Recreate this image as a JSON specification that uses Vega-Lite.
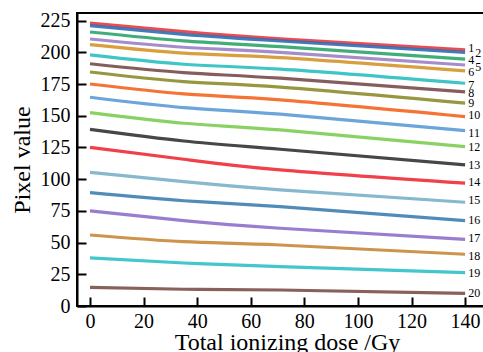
{
  "$schema": "https://vega.github.io/schema/vega-lite/v6.json",
  "autosize": "none",
  "padding": {"left": 77, "top": 13, "right": 0, "bottom": 46},
  "width": 420,
  "height": 293,
  "background": "white",
  "config": {
    "view": {"stroke": "black", "strokeWidth": 2},
    "font": "Liberation Serif",
    "axis": {
      "grid": false,
      "labelFont": "Liberation Serif",
      "labelFontSize": 20,
      "labelColor": "black",
      "titleFont": "Liberation Serif",
      "titleFontSize": 24,
      "titleFontWeight": "normal",
      "titleColor": "black",
      "domainColor": "black",
      "domainWidth": 2,
      "tickColor": "black",
      "tickWidth": 2,
      "tickSize": 9
    }
  },
  "datasets": {
    "curves": [
      {"series": "1", "dose": 0, "value": 223}, {"series": "1", "dose": 35, "value": 216.3}, {"series": "1", "dose": 71, "value": 210.6}, {"series": "1", "dose": 140, "value": 201.9},
      {"series": "2", "dose": 0, "value": 221}, {"series": "2", "dose": 35, "value": 214.2}, {"series": "2", "dose": 71, "value": 209}, {"series": "2", "dose": 140, "value": 200},
      {"series": "4", "dose": 0, "value": 216}, {"series": "4", "dose": 35, "value": 209}, {"series": "4", "dose": 71, "value": 204.5}, {"series": "4", "dose": 140, "value": 194.6},
      {"series": "5", "dose": 0, "value": 210.5}, {"series": "5", "dose": 35, "value": 204}, {"series": "5", "dose": 71, "value": 200}, {"series": "5", "dose": 140, "value": 190},
      {"series": "6", "dose": 0, "value": 206}, {"series": "6", "dose": 35, "value": 199.3}, {"series": "6", "dose": 71, "value": 195.8}, {"series": "6", "dose": 140, "value": 185.3},
      {"series": "7", "dose": 0, "value": 198}, {"series": "7", "dose": 35, "value": 190.6}, {"series": "7", "dose": 71, "value": 186.7}, {"series": "7", "dose": 140, "value": 175.6},
      {"series": "8", "dose": 0, "value": 191}, {"series": "8", "dose": 35, "value": 184}, {"series": "8", "dose": 71, "value": 179.6}, {"series": "8", "dose": 140, "value": 168.8},
      {"series": "9", "dose": 0, "value": 184.5}, {"series": "9", "dose": 35, "value": 176.9}, {"series": "9", "dose": 71, "value": 172.5}, {"series": "9", "dose": 140, "value": 159.9},
      {"series": "10", "dose": 0, "value": 175}, {"series": "10", "dose": 35, "value": 167.2}, {"series": "10", "dose": 71, "value": 162.5}, {"series": "10", "dose": 140, "value": 149.3},
      {"series": "11", "dose": 0, "value": 164.6}, {"series": "11", "dose": 35, "value": 156.4}, {"series": "11", "dose": 71, "value": 151.2}, {"series": "11", "dose": 140, "value": 138.3},
      {"series": "12", "dose": 0, "value": 152.5}, {"series": "12", "dose": 35, "value": 144.1}, {"series": "12", "dose": 71, "value": 138.8}, {"series": "12", "dose": 140, "value": 125.6},
      {"series": "13", "dose": 0, "value": 139.3}, {"series": "13", "dose": 35, "value": 130.1}, {"series": "13", "dose": 71, "value": 123.6}, {"series": "13", "dose": 140, "value": 111.2},
      {"series": "14", "dose": 0, "value": 125}, {"series": "14", "dose": 35, "value": 115.7}, {"series": "14", "dose": 71, "value": 107.3}, {"series": "14", "dose": 140, "value": 96.8},
      {"series": "15", "dose": 0, "value": 105.4}, {"series": "15", "dose": 35, "value": 98}, {"series": "15", "dose": 71, "value": 91.5}, {"series": "15", "dose": 140, "value": 81.8},
      {"series": "16", "dose": 0, "value": 89.4}, {"series": "16", "dose": 35, "value": 83}, {"series": "16", "dose": 71, "value": 78.3}, {"series": "16", "dose": 140, "value": 67.3},
      {"series": "17", "dose": 0, "value": 75}, {"series": "17", "dose": 35, "value": 67.3}, {"series": "17", "dose": 71, "value": 61.3}, {"series": "17", "dose": 140, "value": 52.6},
      {"series": "18", "dose": 0, "value": 56}, {"series": "18", "dose": 35, "value": 50.7}, {"series": "18", "dose": 71, "value": 48.1}, {"series": "18", "dose": 140, "value": 40.8},
      {"series": "19", "dose": 0, "value": 38}, {"series": "19", "dose": 35, "value": 33.9}, {"series": "19", "dose": 71, "value": 31}, {"series": "19", "dose": 140, "value": 26.3},
      {"series": "20", "dose": 0, "value": 14.7}, {"series": "20", "dose": 35, "value": 13.2}, {"series": "20", "dose": 71, "value": 12.6}, {"series": "20", "dose": 140, "value": 10}
    ],
    "tags": [
      {"label": "1", "dose": 141.2, "value": 203.5},
      {"label": "2", "dose": 143.8, "value": 199.5},
      {"label": "4", "dose": 141.2, "value": 194},
      {"label": "5", "dose": 143.8, "value": 188.5},
      {"label": "6", "dose": 141.2, "value": 184.5},
      {"label": "7", "dose": 141.2, "value": 174.3},
      {"label": "8", "dose": 141.2, "value": 168},
      {"label": "9", "dose": 141.2, "value": 160},
      {"label": "10", "dose": 141.2, "value": 150.6},
      {"label": "11", "dose": 141.2, "value": 136.4},
      {"label": "12", "dose": 141.2, "value": 125.4},
      {"label": "13", "dose": 141.2, "value": 111.2},
      {"label": "14", "dose": 141.2, "value": 97.8},
      {"label": "15", "dose": 141.2, "value": 83.6},
      {"label": "16", "dose": 141.2, "value": 67.8},
      {"label": "17", "dose": 141.2, "value": 53.6},
      {"label": "18", "dose": 141.2, "value": 39.4},
      {"label": "19", "dose": 141.2, "value": 26},
      {"label": "20", "dose": 141.2, "value": 10.3}
    ]
  },
  "resolve": {"axis": {"x": "independent", "y": "independent"}},
  "layer": [
    {
      "data": {"name": "curves"},
      "mark": {"type": "line", "interpolate": "natural", "strokeWidth": 3.2, "opacity": 0.9},
      "encoding": {
        "x": {
          "field": "dose",
          "type": "quantitative",
          "scale": {"domain": [-4.85, 151.9], "nice": false, "zero": false},
          "axis": {"orient": "bottom", "values": [0, 20, 40, 60, 80, 100, 120, 140], "ticks": false, "title": "Total ionizing dose /Gy", "labelPadding": 5, "titlePadding": -1}
        },
        "y": {
          "field": "value",
          "type": "quantitative",
          "scale": {"domain": [0, 231], "nice": false},
          "axis": {"orient": "left", "values": [0, 25, 50, 75, 100, 125, 150, 175, 200, 225], "ticks": false, "title": "Pixel value", "labelPadding": 7, "titlePadding": 6}
        },
        "detail": {"field": "series"},
        "color": {
          "field": "series",
          "type": "nominal",
          "legend": null,
          "scale": {
            "domain": ["1", "2", "4", "5", "6", "7", "8", "9", "10", "11", "12", "13", "14", "15", "16", "17", "18", "19", "20"],
            "range": ["#e8383d", "#2d6db5", "#2ca56a", "#9b7fc4", "#d4952a", "#2bbfc0", "#7a4a4a", "#8c8c2e", "#f4641e", "#5b9bd5", "#7ccc52", "#333333", "#ee2b35", "#7ab0c8", "#3e7fb0", "#8e6fc9", "#c8883a", "#2fc0c8", "#7a5048"]
          }
        }
      }
    },
    {
      "data": {"name": "tags"},
      "mark": {"type": "text", "align": "left", "baseline": "middle", "font": "Liberation Serif", "fontSize": 12, "color": "black"},
      "encoding": {
        "x": {
          "field": "dose",
          "type": "quantitative",
          "scale": {"domain": [-4.85, 151.9], "nice": false, "zero": false},
          "axis": {"orient": "top", "offset": -293, "values": [0, 20, 40, 60, 80, 100, 120, 140], "labels": false, "domain": false, "title": null}
        },
        "y": {
          "field": "value",
          "type": "quantitative",
          "scale": {"domain": [0, 231], "nice": false},
          "axis": {"orient": "right", "offset": -420, "values": [0, 25, 50, 75, 100, 125, 150, 175, 200, 225], "labels": false, "domain": false, "title": null}
        },
        "text": {"field": "label"}
      }
    }
  ]
}
